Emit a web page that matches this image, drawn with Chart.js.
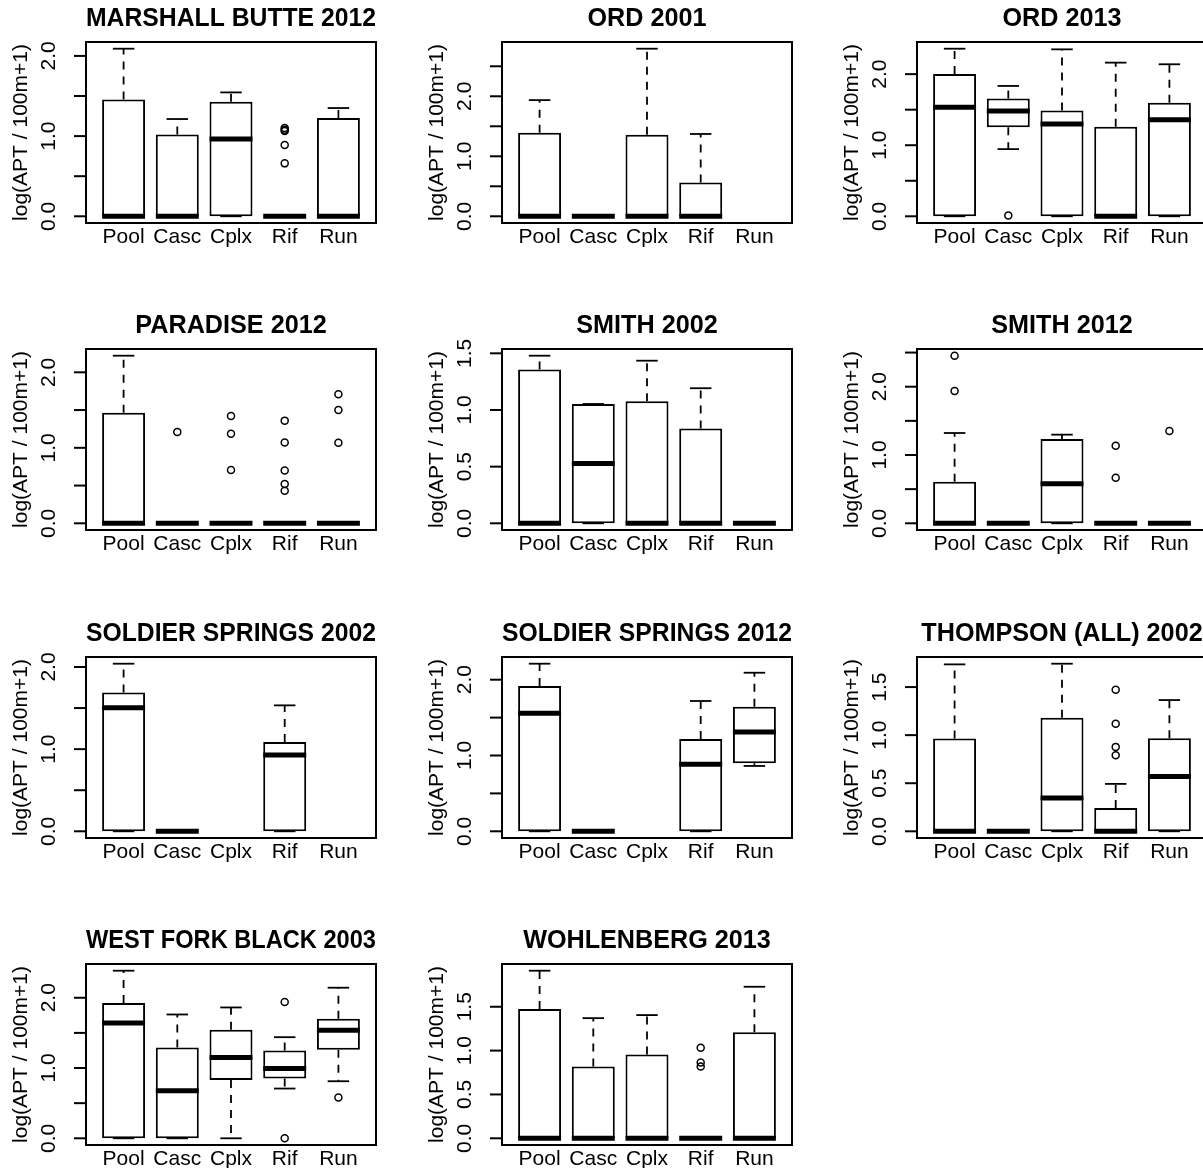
<!DOCTYPE html>
<html>
<head>
<meta charset="utf-8">
<script src="https://cdn.jsdelivr.net/npm/chart.js@4"></script>
<style>
  html, body { margin: 0; padding: 0; background: #fff; overflow: hidden; }
  #wrap { position: relative; width: 1203px; height: 1168px; overflow: hidden; background: #fff; }
  #wrap canvas { position: absolute; }
</style>
</head>
<body>
<div id="wrap"></div>
<script>
// ---------- DATA ----------
const panelTitles = ['MARSHALL BUTTE 2012', 'ORD 2001', 'ORD 2013', 'PARADISE 2012', 'SMITH 2002', 'SMITH 2012',
  'SOLDIER SPRINGS 2002', 'SOLDIER SPRINGS 2012', 'THOMPSON (ALL) 2002', 'WEST FORK BLACK 2003', 'WOHLENBERG 2013'];
const categories = ['Pool', 'Casc', 'Cplx', 'Rif', 'Run'];
const yAxisTitle = 'log(APT / 100m+1)';

// per panel, per category (Pool, Casc, Cplx, Rif, Run); null = no data
const whiskerLow = [
  [0, 0, 0, 0, 0],
  [0, 0, 0, 0, null],
  [0, 0.945, 0, 0, 0],
  [0, 0, 0, 0, 0],
  [0, 0, 0, 0, 0],
  [0, 0, 0, 0, 0],
  [0, 0, null, 0, null],
  [0, 0, null, 0, 0.862],
  [0, 0, 0, 0, 0],
  [0, 0, 0, 0.708, 0.812],
  [0, 0, 0, 0, 0]
];
const quart1 = [
  [0, 0, 0, 0, 0],
  [0, 0, 0, 0, null],
  [0, 1.254, 0, 0, 0],
  [0, 0, 0, 0, 0],
  [0, 0, 0, 0, 0],
  [0, 0, 0, 0, 0],
  [0, 0, null, 0, null],
  [0, 0, null, 0, 0.897],
  [0, 0, 0, 0, 0],
  [0, 0, 0.831, 0.85, 1.259],
  [0, 0, 0, 0, 0]
];
const medians = [
  [0, 0, 0.965, 0, 0],
  [0, 0, 0, 0, null],
  [1.535, 1.483, 1.30, 0, 1.357],
  [0, 0, 0, 0, 0],
  [0, 0.527, 0, 0, 0],
  [0, 0, 0.58, 0, 0],
  [1.505, 0, null, 0.929, null],
  [1.556, 0, null, 0.884, 1.31],
  [0, 0, 0.347, 0, 0.569],
  [1.639, 0.675, 1.15, 0.993, 1.539],
  [0, 0, 0, 0, 0]
];
const quart3 = [
  [1.458, 1.019, 1.429, 0, 1.226],
  [1.394, 0, 1.36, 0.564, null],
  [2.003, 1.657, 1.488, 1.259, 1.596],
  [1.463, 0, 0, 0, 0],
  [1.358, 1.053, 1.077, 0.837, 0],
  [0.61, 0, 1.234, 0, 0],
  [1.688, 0, null, 1.087, null],
  [1.916, 0, null, 1.218, 1.644],
  [0.965, 0, 1.181, 0.243, 0.969],
  [1.924, 1.292, 1.544, 1.249, 1.701],
  [1.473, 0.818, 0.955, 0, 1.21]
];
const whiskerHigh = [
  [2.09, 1.213, 1.545, 0, 1.35],
  [1.936, 0, 2.793, 1.372, null],
  [2.358, 1.834, 2.349, 2.162, 2.139],
  [2.22, 0, 0, 0, 0],
  [1.479, 1.053, 1.435, 1.192, 0],
  [1.322, 0, 1.298, 0, 0],
  [2.04, 0, null, 1.533, null],
  [2.211, 0, null, 1.719, 2.092],
  [1.736, 0, 1.743, 0.493, 1.365],
  [2.385, 1.762, 1.862, 1.439, 2.143],
  [1.911, 1.37, 1.405, 0, 1.728]
];
const outliers = [
  [[], [], [], [1.10, 1.08, 1.065, 0.89, 0.66], []],
  [[], [], [], [], []],
  [[], [0.01], [], [], []],
  [[], [1.21], [1.42, 1.185, 0.705], [1.36, 1.07, 0.70, 0.52, 0.43], [1.71, 1.50, 1.066]],
  [[], [], [], [], []],
  [[2.454, 1.937], [], [], [1.137, 0.668], [1.351]],
  [[], [], [], [], []],
  [[], [], [], [], []],
  [[], [], [], [1.472, 1.118, 0.878, 0.792], []],
  [[], [], [], [1.938, 0], [0.58]],
  [[], [], [], [1.032, 0.864, 0.818], []]
];
const yTickValues = [
  [0, 0.5, 1, 1.5, 2],
  [0, 0.5, 1, 1.5, 2, 2.5],
  [0, 0.5, 1, 1.5, 2],
  [0, 0.5, 1, 1.5, 2],
  [0, 0.5, 1, 1.5],
  [0, 0.5, 1, 1.5, 2, 2.5],
  [0, 0.5, 1, 1.5, 2],
  [0, 0.5, 1, 1.5, 2],
  [0, 0.5, 1, 1.5],
  [0, 0.5, 1, 1.5, 2],
  [0, 0.5, 1, 1.5]
];
const yTickLabels = [
  ['0.0', '', '1.0', '', '2.0'],
  ['0.0', '', '1.0', '', '2.0', ''],
  ['0.0', '', '1.0', '', '2.0'],
  ['0.0', '', '1.0', '', '2.0'],
  ['0.0', '0.5', '1.0', '1.5'],
  ['0.0', '', '1.0', '', '2.0', ''],
  ['0.0', '', '1.0', '', '2.0'],
  ['0.0', '', '1.0', '', '2.0'],
  ['0.0', '0.5', '1.0', '1.5'],
  ['0.0', '', '1.0', '', '2.0'],
  ['0.0', '0.5', '1.0', '1.5']
];

// ---------- STYLE / LAYOUT ----------
const FONT = "'Liberation Sans', Arial, Helvetica, sans-serif";
const COL_PITCH = 415.7, ROW_PITCH = 307.4, NCOL = 3;
const CW = 416, CH = 308;

const rBoxPlugin = {
  id: 'rbox',
  afterDatasetsDraw(chart, args, opts) {
    const p = opts.panel;
    const xs = chart.scales.x, ys = chart.scales.y, ctx = chart.ctx, a = chart.chartArea;
    const bw = 0.8 * (xs.getPixelForValue(2) - xs.getPixelForValue(1));
    ctx.save();
    ctx.strokeStyle = '#000';
    ctx.lineCap = 'butt';
    const seg = (x1, y1, x2, y2) => { ctx.beginPath(); ctx.moveTo(x1, y1); ctx.lineTo(x2, y2); ctx.stroke(); };
    for (let i = 0; i < categories.length; i++) {
      if (medians[p][i] == null) continue;
      const x = xs.getPixelForValue(i + 1);
      const yLo = ys.getPixelForValue(whiskerLow[p][i]);
      const yQ1 = ys.getPixelForValue(quart1[p][i]);
      const yMed = ys.getPixelForValue(medians[p][i]);
      const yQ3 = ys.getPixelForValue(quart3[p][i]);
      const yHi = ys.getPixelForValue(whiskerHigh[p][i]);
      ctx.lineWidth = 1.8;
      ctx.setLineDash([8, 7]);
      if (whiskerHigh[p][i] > quart3[p][i]) seg(x, yQ3, x, yHi);
      if (whiskerLow[p][i] < quart1[p][i]) seg(x, yQ1, x, yLo);
      ctx.setLineDash([]);
      seg(x - bw / 4, yHi, x + bw / 4, yHi);
      seg(x - bw / 4, yLo, x + bw / 4, yLo);
      ctx.lineWidth = 5;
      seg(x - bw / 2, yMed, x + bw / 2, yMed);
    }
    // frame
    ctx.lineWidth = 2;
    ctx.strokeRect(a.left, a.top, a.right - a.left, a.bottom - a.top);
    // y axis: line, ticks, rotated labels
    const tv = yTickValues[p], tl = yTickLabels[p];
    seg(a.left, ys.getPixelForValue(tv[0]), a.left, ys.getPixelForValue(tv[tv.length - 1]));
    ctx.fillStyle = '#000';
    ctx.font = '21px ' + FONT;
    ctx.textAlign = 'center';
    ctx.textBaseline = 'alphabetic';
    for (let k = 0; k < tv.length; k++) {
      const y = ys.getPixelForValue(tv[k]);
      seg(a.left - 12, y, a.left, y);
      if (tl[k]) {
        ctx.save();
        ctx.translate(a.left - 31, y);
        ctx.rotate(-Math.PI / 2);
        ctx.fillText(tl[k], 0, 0);
        ctx.restore();
      }
    }
    // y axis title
    ctx.save();
    ctx.translate(a.left - 59, (a.top + a.bottom) / 2);
    ctx.rotate(-Math.PI / 2);
    ctx.fillText(yAxisTitle, 0, 0);
    ctx.restore();
    ctx.restore();
  }
};

const wrap = document.getElementById('wrap');
panelTitles.forEach((title, p) => {
  const col = p % NCOL, row = Math.floor(p / NCOL);
  const cv = document.createElement('canvas');
  cv.width = CW; cv.height = CH;
  cv.style.left = Math.round(col * COL_PITCH) + 'px';
  cv.style.top = Math.round(row * ROW_PITCH) + 'px';
  cv.style.width = CW + 'px'; cv.style.height = CH + 'px';
  wrap.appendChild(cv);

  const boxData = [], outData = [];
  const allVals = [];
  categories.forEach((c, i) => {
    if (medians[p][i] == null) return;
    boxData.push({ x: i + 1, y: [quart1[p][i], quart3[p][i]] });
    allVals.push(whiskerLow[p][i], whiskerHigh[p][i]);
    outliers[p][i].forEach(v => { outData.push({ x: i + 1, y: v }); allVals.push(v); });
  });
  const lo = Math.min(...allVals), hi = Math.max(...allVals);
  const pad = 0.04 * (hi - lo);

  new Chart(cv, {
    type: 'bar',
    data: {
      datasets: [
        {
          type: 'bar',
          label: 'box',
          data: boxData,
          backgroundColor: '#ffffff',
          borderColor: '#000000',
          borderWidth: 2,
          borderSkipped: false,
          categoryPercentage: 1,
          barPercentage: 0.8
        },
        {
          type: 'scatter',
          label: 'outliers',
          data: outData,
          showLine: false,
          pointStyle: 'circle',
          pointRadius: 3.5,
          pointBorderWidth: 1.5,
          pointBackgroundColor: 'rgba(0,0,0,0)',
          pointBorderColor: '#000000'
        }
      ]
    },
    options: {
      responsive: false,
      animation: false,
      devicePixelRatio: 1,
      events: [],
      layout: { padding: { left: 86, right: 40, top: 0, bottom: 45 } },
      scales: {
        x: {
          type: 'linear',
          min: 0.3,
          max: 5.7,
          offset: false,
          afterBuildTicks: s => { s.ticks = categories.map((c, i) => ({ value: i + 1 })); },
          afterFit: s => { s.height = 40; },
          grid: { display: false, drawTicks: false },
          border: { display: false },
          ticks: {
            autoSkip: false,
            maxRotation: 0,
            minRotation: 0,
            padding: 2,
            color: '#000',
            font: { family: FONT, size: 21 },
            callback: v => categories[Math.round(v) - 1]
          }
        },
        y: {
          type: 'linear',
          display: false,
          min: lo - pad,
          max: hi + pad
        }
      },
      plugins: {
        legend: { display: false },
        tooltip: { enabled: false },
        title: {
          display: true,
          text: title,
          color: '#000',
          font: { family: FONT, size: 25.2, weight: 'bold', lineHeight: 1.2 },
          padding: { top: 4, bottom: 7.76 }
        },
        rbox: { panel: p }
      }
    },
    plugins: [rBoxPlugin]
  });
});
</script>
</body>
</html>
